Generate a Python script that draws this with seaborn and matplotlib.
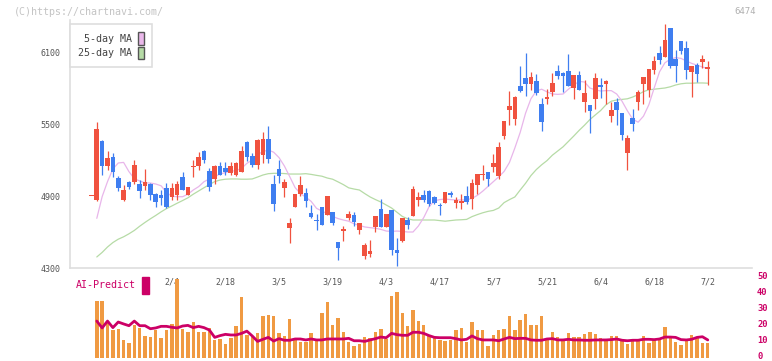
import numpy as np
import pandas as pd
import matplotlib
matplotlib.use("Agg")
import matplotlib.pyplot as plt
import seaborn as sns
from matplotlib.patches import Patch, Rectangle
from matplotlib.transforms import ScaledTranslation

# daily prices, 2019-01-11 .. 2019-07-02 (116 trading days)
open_ = [4897, 4867, 5358, 5153, 5225, 5050, 4867, 5017, 5017, 5000,
         4983, 5000, 4917, 4908, 4967, 4892, 4908, 5058, 4908, 5140,
         5150, 5275, 5108, 5042, 5150, 5133, 5092, 5075, 5100, 5350,
         5233, 5158, 5242, 5375, 5000, 5125, 4967, 4633, 4808, 4917,
         4925, 4758, 4700, 4808, 4742, 4767, 4517, 4612, 4717, 4742,
         4617, 4400, 4417, 4642, 4792, 4642, 4783, 4450, 4525, 4700,
         4733, 4867, 4908, 4942, 4892, 4825, 4842, 4925, 4842, 4842,
         4900, 4875, 4992, 5075, 5100, 5142, 5067, 5400, 5617, 5542,
         5817, 5883, 5833, 5858, 5667, 5708, 5767, 5942, 5925, 5942,
         5800, 5908, 5683, 5658, 5708, 5825, 5833, 5567, 5683, 5592,
         5258, 5550, 5683, 5833, 5783, 5950, 6092, 6058, 6300, 6042,
         6192, 6133, 5933, 5992, 6017, 5962]
high = [4897, 5517, 5367, 5275, 5258, 5067, 4992, 5025, 5200, 5033,
        5125, 5008, 4925, 4950, 5008, 5008, 5025, 5100, 4975, 5200,
        5267, 5283, 5133, 5158, 5183, 5183, 5183, 5183, 5317, 5358,
        5258, 5375, 5433, 5483, 5075, 5200, 5042, 4717, 4917, 5067,
        4967, 4825, 4750, 4808, 4900, 4767, 4517, 4650, 4775, 4767,
        4675, 4508, 4533, 4733, 4875, 4750, 4783, 4550, 4717, 4725,
        4983, 4933, 4950, 4950, 4900, 4842, 4933, 4942, 4892, 4917,
        4983, 5042, 5083, 5158, 5100, 5250, 5350, 5525, 5775, 5733,
        5983, 6092, 5933, 5917, 5717, 5792, 5925, 5992, 5933, 6083,
        5908, 5942, 5867, 5658, 5925, 5883, 5867, 5683, 5717, 5592,
        5408, 5625, 5783, 5892, 5958, 6067, 6150, 6333, 6300, 6117,
        6192, 6192, 5983, 6008, 6075, 6025]
low = [4897, 4860, 5075, 5117, 5061, 4944, 4861, 4958, 5000, 4883,
       4950, 4867, 4808, 4825, 4800, 4867, 4867, 4950, 4908, 5058,
       5117, 5175, 4942, 5000, 5075, 5075, 5075, 5067, 5100, 5192,
       5142, 5125, 5175, 5175, 4775, 5008, 4892, 4508, 4808, 4900,
       4808, 4717, 4617, 4658, 4742, 4658, 4367, 4525, 4700, 4650,
       4583, 4375, 4392, 4600, 4642, 4642, 4408, 4317, 4517, 4625,
       4733, 4817, 4850, 4817, 4833, 4742, 4842, 4892, 4800, 4792,
       4833, 4792, 4917, 5033, 4983, 5100, 5042, 5375, 5492, 5492,
       5767, 5733, 5783, 5742, 5442, 5667, 5733, 5875, 5767, 5817,
       5708, 5783, 5600, 5425, 5625, 5717, 5667, 5517, 5492, 5367,
       5117, 5442, 5617, 5667, 5725, 5917, 6000, 6058, 5967, 5850,
       6083, 5875, 5725, 5850, 5967, 5825]
close = [4897, 5458, 5153, 5217, 5103, 4967, 4950, 4975, 5158, 4942,
         5017, 4908, 4850, 4883, 4808, 4967, 5000, 4950, 4975, 5148,
         5225, 5200, 4975, 5150, 5075, 5100, 5150, 5175, 5275, 5225,
         5158, 5367, 5375, 5208, 4833, 5067, 5017, 4675, 4917, 4992,
         4858, 4725, 4692, 4658, 4900, 4675, 4467, 4620, 4750, 4683,
         4675, 4492, 4442, 4733, 4642, 4750, 4450, 4425, 4717, 4658,
         4958, 4892, 4867, 4833, 4842, 4817, 4933, 4908, 4867, 4858,
         4850, 5008, 5083, 5083, 5042, 5175, 5308, 5525, 5650, 5725,
         5775, 5833, 5892, 5758, 5517, 5725, 5842, 5900, 5900, 5817,
         5908, 5783, 5758, 5608, 5883, 5808, 5858, 5617, 5617, 5408,
         5383, 5500, 5767, 5892, 5958, 6025, 6033, 6200, 5983, 5983,
         6108, 5950, 5983, 5917, 6042, 5970]

ma5 = [np.nan, 4714, 4895, 5020, 5125, 5175, 5180, 5103, 5045, 5025,
       5010, 5008, 5000, 4985, 4930, 4898, 4894, 4894, 4915, 4950,
       4978, 5019, 5042, 5063, 5082, 5096, 5106, 5112, 5130, 5172,
       5200, 5245, 5270, 5283, 5265, 5220, 5150, 5061, 4970, 4920,
       4890, 4855, 4797, 4775, 4752, 4730, 4712, 4700, 4690, 4668,
       4655, 4642, 4636, 4631, 4622, 4608, 4605, 4608, 4605, 4600,
       4600, 4650, 4720, 4811, 4860, 4870, 4875, 4870, 4867, 4867,
       4867, 4880, 4905, 4940, 4980, 5020, 5060, 5105, 5180, 5300,
       5430, 5590, 5710, 5775, 5790, 5768, 5750, 5747, 5750, 5790,
       5825, 5855, 5850, 5800, 5785, 5775, 5778, 5778, 5750, 5690,
       5610, 5540, 5515, 5565, 5660, 5800, 5935, 6010, 6040, 6053,
       6047, 6025, 6005, 5990, 5975, 5962]
ma25 = [np.nan, 4392, 4430, 4475, 4512, 4540, 4560, 4585, 4613, 4648,
        4680, 4710, 4738, 4768, 4795, 4817, 4840, 4862, 4885, 4915,
        4942, 4969, 4995, 5020, 5033, 5040, 5042, 5042, 5040, 5040,
        5042, 5058, 5075, 5086, 5089, 5089, 5087, 5083, 5083, 5083,
        5086, 5080, 5072, 5065, 5050, 5040, 5018, 4995, 4968, 4958,
        4950, 4920, 4892, 4870, 4850, 4825, 4800, 4765, 4730, 4710,
        4700, 4700, 4700, 4700, 4700, 4695, 4690, 4695, 4700, 4702,
        4705, 4728, 4745, 4760, 4772, 4780, 4800, 4845, 4870, 4892,
        4950, 5006, 5070, 5120, 5160, 5195, 5240, 5275, 5310, 5355,
        5400, 5447, 5490, 5537, 5575, 5612, 5660, 5690, 5700, 5705,
        5710, 5725, 5745, 5770, 5785, 5790, 5795, 5800, 5810, 5825,
        5835, 5840, 5840, 5842, 5842, 5840]

volume = [np.nan, 35.4, 35.4, 21.5, 17.5, 18.1, 11.1, 9.2, 20.4, 18.6,
          13.6, 12.9, 17.5, 12.3, 17.5, 21.1, 49.2, 18.1, 16.3, 22.3,
          16.3, 16.3, 18.6, 11.1, 11.7, 8.6, 12.3, 19.8, 37.9, 14.2,
          13.6, 15.5, 26.1, 26.7, 26.1, 15.6, 13.5, 24.2, 12.6, 10.0,
          9.6, 15.4, 11.1, 28.1, 34.8, 20.4, 24.8, 16.1, 9.8, 7.3,
          8.6, 13.0, 12.3, 16.1, 18.0, 11.8, 38.6, 41.1, 27.9, 19.8,
          29.8, 22.9, 20.4, 13.5, 13.1, 11.1, 10.4, 11.1, 17.3, 18.6,
          9.8, 22.4, 17.3, 17.3, 7.3, 14.2, 17.3, 18.0, 26.1, 17.3,
          23.6, 27.3, 20.4, 20.4, 26.1, 11.1, 16.1, 13.0, 11.1, 15.4,
          13.0, 13.0, 14.8, 16.1, 14.8, 12.3, 11.1, 13.5, 13.5, 11.1,
          8.6, 11.1, 10.4, 13.5, 9.2, 11.1, 12.0, 19.1, 13.5, 9.8,
          7.9, 10.4, 14.2, 13.1, 9.2, 9.2]
predict = [np.nan, 22.9, 18.6, 22.9, 18.8, 22.3, 21.1, 20.0, 22.9, 20.0,
           20.0, 18.1, 18.6, 19.6, 19.6, 19.0, 18.6, 19.8, 20.2, 18.8,
           19.6, 18.8, 17.3, 12.7, 13.8, 14.6, 14.2, 14.2, 15.2, 16.6,
           13.6, 10.2, 11.5, 12.7, 10.4, 11.9, 10.9, 10.9, 11.7, 11.7,
           11.1, 11.7, 11.1, 11.1, 11.7, 11.7, 11.7, 11.7, 12.1, 10.6,
           10.6, 10.2, 11.1, 11.9, 12.9, 12.5, 15.2, 14.4, 14.0, 14.0,
           15.9, 15.9, 15.2, 13.8, 12.7, 12.5, 12.5, 12.5, 11.9, 11.1,
           11.5, 13.6, 11.9, 11.1, 11.1, 11.1, 10.6, 11.7, 12.7, 11.9,
           12.1, 12.1, 11.1, 10.9, 10.9, 11.7, 11.9, 11.1, 11.1, 11.5,
           11.1, 11.1, 10.9, 10.9, 11.1, 11.1, 11.1, 11.3, 11.7, 10.9,
           10.6, 10.9, 10.9, 11.5, 11.5, 11.3, 11.7, 12.9, 12.9, 12.7,
           11.3, 11.1, 11.5, 12.7, 13.1, 11.1]

date_labels = ["2/4", "2/18", "3/5", "3/19", "4/3", "4/17", "5/7",
               "5/21", "6/4", "6/18", "7/2"]
date_index = [15, 25, 35, 45, 55, 65, 75, 85, 95, 105, 115]
price_ticks = [4300, 4900, 5500, 6100]
predict_ticks = [0, 10, 20, 30, 40, 50]

df = pd.DataFrame({"open": open_, "high": high, "low": low, "close": close,
                   "ma5": ma5, "ma25": ma25, "volume": volume, "predict": predict})
df["day"] = np.arange(len(df))
up = df["close"] >= df["open"]

RED = "#f0523f"
BLUE = "#3f7ef0"
GRID = "#dedede"
MAG = "#cc0066"
MONO = "DejaVu Sans Mono"

sns.set_style("white")
plt.rcParams["font.family"] = [MONO, "DejaVu Sans"]

fig = plt.figure(figsize=(7.72, 3.61), dpi=100)
W, H = 772, 361
x0, x1 = -4.0, 123.25

ax = fig.add_axes([70 / W, 1 - 268 / H, 682 / W, 248 / H])
ax_p = fig.add_axes([70 / W, 1 - 357.7 / H, 682 / W, 80 / H])
ax_p.patch.set_alpha(0)

# moving averages
sns.lineplot(data=df, x="day", y="ma25", ax=ax, color="#b6dba6", lw=0.9)
sns.lineplot(data=df, x="day", y="ma5", ax=ax, color="#e8b6ea", lw=0.9)

# candles
body = (df["close"] - df["open"]).abs().clip(lower=9)
bottom = df[["open", "close"]].min(axis=1)
colors = np.where(up, RED, BLUE)
ax.vlines(df["day"], df["low"], df["high"], colors=colors, lw=0.9, zorder=3)
ax.bar(df["day"], body, bottom=bottom, width=0.86, color=colors, zorder=4,
       linewidth=0)

ax.set_xlim(x0, x1)
ax.set_ylim(4300, 4300 + 248 / 0.12)
ax.set_xlabel("")
ax.set_ylabel("")
for s in ["top", "right"]:
    ax.spines[s].set_visible(False)
for s in ["left", "bottom"]:
    ax.spines[s].set_color(GRID)
    ax.spines[s].set_linewidth(1.2)
ax.set_yticks(price_ticks)
ax.set_yticklabels([str(v) for v in price_ticks])
ax.tick_params(axis="y", length=4, width=1, color=GRID, labelsize=6,
               labelcolor="#555555", pad=3)
ax.set_xticks(np.linspace(x0, x1, 12))
ax.set_xticklabels([])
ax.tick_params(axis="x", which="major", direction="in", length=3.5, width=1.2,
               color=GRID)
ax.set_xticks(date_index, minor=True)
ax.set_xticklabels(date_labels, minor=True)
ax.tick_params(axis="x", which="minor", length=0, pad=7, labelsize=6,
               labelcolor="#555555")

leg = ax.legend(handles=[Patch(facecolor="#eab8ea", edgecolor="#555555", lw=1),
                         Patch(facecolor="#b6dba6", edgecolor="#555555", lw=1)],
                labels=["5-day MA", "25-day MA"], loc="upper left",
                bbox_to_anchor=(70 / W, 1 - 24 / H), bbox_transform=fig.transFigure,
                markerfirst=False, fontsize=7.2, handlelength=0.6,
                handleheight=1.5, handletextpad=0.5, labelspacing=0.2,
                borderpad=0.85, borderaxespad=0, fancybox=False, framealpha=1)
leg.get_frame().set_edgecolor(GRID)
leg.get_frame().set_linewidth(1.2)
for t in leg.get_texts():
    t.set_color("#444444")

# AI predict panel
ax_p.bar(df["day"], df["volume"], width=0.64, color="#f09a42", linewidth=0)
sns.lineplot(data=df, x="day", y="predict", ax=ax_p, color=MAG, lw=2.0)
ax_p.set_xlim(x0, x1)
ax_p.set_ylim(0, 50)
ax_p.set_xlabel("")
ax_p.set_ylabel("")
for s in ax_p.spines.values():
    s.set_visible(False)
ax_p.set_xticks([])
ax_p.set_yticks([])
# right-hand scale, nudged up a little so the "0" stays inside the image
lift = ScaledTranslation(0, 1.5 / 100, fig.dpi_scale_trans)
for v in predict_ticks:
    ax_p.text(1 + 5 / 682, v, str(v), transform=ax_p.get_yaxis_transform() + lift,
              color=MAG, fontsize=6.3, fontweight="bold", va="center", ha="left")

fig.text(76 / W, 1 - 285 / H, "AI-Predict", color=MAG, fontsize=7.2, va="center")
fig.patches.append(Rectangle((142 / W, 1 - 294 / H), 7 / W, 17 / H,
                             transform=fig.transFigure, color=MAG))

fig.text(14 / W, 1 - 12 / H, "(C)https://chartnavi.com/", color="#c4c4c4",
         fontsize=7.2, va="center")
fig.text(756 / W, 1 - 12 / H, "6474", color="#b0b0b0", fontsize=6.5,
         va="center", ha="right")

fig.savefig("out.png", dpi=100)
